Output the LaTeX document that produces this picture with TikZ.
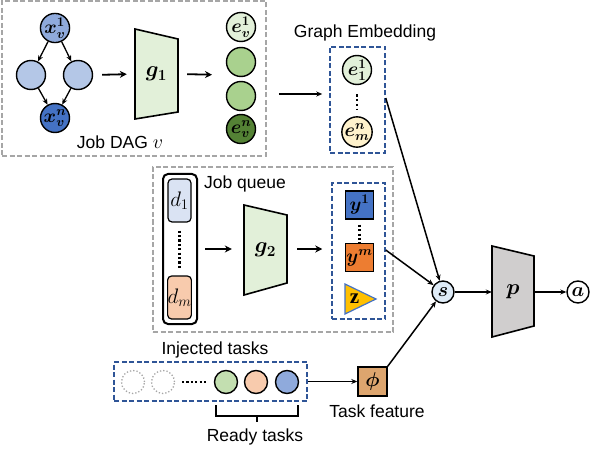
\RequirePackage{fix-cm}
\documentclass[tikz,border=0pt]{standalone}
\usepackage{amsmath,bm}
\usepackage{fontspec}
\setmainfont{Liberation Sans}
\newfontfamily\zserif{Liberation Serif}
\usetikzlibrary{arrows.meta,calc}
\definecolor{lgreen}{HTML}{E2F0D9}
\definecolor{mgreen}{HTML}{A9D18E}
\definecolor{dgreen}{HTML}{548235}
\definecolor{lblue}{HTML}{B4C7E7}
\definecolor{mblue}{HTML}{8FAADC}
\definecolor{dblue}{HTML}{4472C4}
\definecolor{boxblue}{HTML}{2F5597}
\definecolor{boxgray}{HTML}{A6A6A6}
\definecolor{qblue}{HTML}{DAE3F3}
\definecolor{qorange}{HTML}{F8CBAD}
\definecolor{yorange}{HTML}{ED7D31}
\definecolor{zyellow}{HTML}{FFC000}
\definecolor{lyellow}{HTML}{FFF2CC}
\definecolor{sblue}{HTML}{DEEBF7}
\definecolor{pgray}{HTML}{D0CECE}
\definecolor{phicol}{RGB}{221,165,110}
\tikzset{
  txt/.style={font=\fontsize{17.5}{20}\selectfont, inner sep=0pt},
  circ/.style={circle, draw=black, line width=1.4pt, minimum size=29pt, inner sep=0pt, font=\fontsize{19}{21}\selectfont},
  smallcirc/.style={circle, draw=black, line width=1.4pt, minimum size=23pt, inner sep=0pt},
  graybox/.style={draw=boxgray, line width=1.5pt, dash pattern=on 5pt off 2.5pt, inner sep=0pt},
  bluebox/.style={draw=boxblue, line width=1.5pt, dash pattern=on 5pt off 2.5pt, inner sep=0pt},
  sq/.style={draw=black, line width=1.4pt, minimum size=28pt, inner sep=0pt, font=\fontsize{19}{21}\selectfont},
  trap/.style={draw=black, line width=1.6pt},
  traplabel/.style={inner sep=0pt, font=\fontsize{22}{24}\selectfont},
  arr/.style={-{Stealth[length=7pt,width=7pt]}, line width=1.8pt},
  thinarr/.style={-{Stealth[length=6pt,width=5pt]}, line width=1.1pt},
  dagarr/.style={-{Stealth[length=6pt,width=5pt]}, line width=1.3pt},
  vdots/.style={line width=2.6pt, dash pattern=on 2.4pt off 2.4pt},
}
\begin{document}
\begin{tikzpicture}[x=1pt,y=-1pt]
\useasboundingbox (0,0) rectangle (591,457);

% ---------- Job DAG box ----------
\node[graybox, minimum width=264pt, minimum height=155pt] (dagbox) at (134,78.5) {};
\node[circ, fill=mblue] (x1) at (55,28) {$\bm{x_v^1}$};
\node[circ, fill=lblue] (xl) at (31,75) {};
\node[circ, fill=lblue] (xr) at (78,75) {};
\node[circ, fill=dblue] (xn) at (55,118) {$\bm{x_v^n}$};
\draw[dagarr] (x1) -- (xl);
\draw[dagarr] (x1) -- (xr);
\draw[dagarr] (xl) -- (xn);
\draw[dagarr] (xr) -- (xn);
\node[txt] (dagtxt) at (120,142) {Job DAG \fontsize{20}{22}\selectfont$v$};

\node[minimum width=43pt, minimum height=90pt, inner sep=0pt] (g1) at (156.5,74) {};
\draw[trap, fill=lgreen] (135,29) -- (178,39) -- (178,112) -- (135,119) -- cycle;
\node[traplabel] (g1txt) at (g1) {$\bm{g_1}$};
\draw[arr, shorten <=9pt, shorten >=8pt] (xr.east) -- (g1.west);

\node[circ, fill=lgreen] (e1) at (241,27) {$\bm{e_v^1}$};
\node[circ, fill=mgreen] (e2) at (241,62) {};
\node[circ, fill=mgreen] (e3) at (241,96) {};
\node[circ, fill=dgreen] (en) at (241,129) {$\bm{e_v^n}$};
\coordinate (ecol) at (226,75);
\draw[arr, shorten <=9pt, shorten >=14pt] (g1.east) -- (ecol);

% ---------- Graph embedding ----------
\node[txt] (getxt) at (365,33) {Graph Embedding};
\node[bluebox, minimum width=55pt, minimum height=106pt] (gebox) at (357.5,100) {};
\node[circ, fill=lgreen] (e11) at (357,70) {$\bm{e_1^1}$};
\node[circ, fill=lyellow] (emn) at (357,132) {$\bm{e_m^n}$};
\draw[vdots] ($(e11.south)+(0,9)$) coordinate (gd1) -- ($(emn.north)+(0,-7)$) coordinate (gd2);
\draw[thinarr, shorten <=12pt, shorten >=7pt] (dagbox.east |- 0,94) coordinate (c1) -- (gebox.west |- 0,94) coordinate (c2);

% ---------- Job queue ----------
\node[graybox, minimum width=240pt, minimum height=165pt] (jqbox) at (273,249.5) {};
\node[txt] (jqtxt) at (245,184) {Job queue};
\node[draw=black, line width=2pt, rounded corners=5pt, minimum width=34pt, minimum height=150pt, inner sep=0pt] (queue) at (180,249) {};
\node[draw=black, line width=1.2pt, rounded corners=4pt, fill=qblue, minimum width=23pt, minimum height=43pt, inner sep=0pt, font=\fontsize{21}{23}\selectfont] (d1) at (179.5,200.5) {$d_1$};
\node[draw=black, line width=1.2pt, rounded corners=4pt, fill=qorange, minimum width=23pt, minimum height=43pt, inner sep=0pt, font=\fontsize{21}{23}\selectfont] (dm) at (179.5,297.5) {$d_m$};
\draw[line width=2.4pt, dash pattern=on 2.2pt off 2.2pt] ($(d1.south)+(0,8)$) -- ($(dm.north)+(0,-6)$);

\node[minimum width=43pt, minimum height=90pt, inner sep=0pt] (g2) at (265.5,250) {};
\draw[trap, fill=lgreen] (244,205) -- (287,215) -- (287,283) -- (244,295) -- cycle;
\node[traplabel] (g2txt) at (g2) {$\bm{g_2}$};
\draw[arr, shorten <=7pt, shorten >=12pt] (queue.east |- 0,249) -- (g2.west |- 0,249);

\node[bluebox, minimum width=53pt, minimum height=136pt] (ybox) at (358.5,251) {};
\node[sq, fill=dblue] (y1) at (359.5,205) {$\bm{y^1}$};
\node[sq, fill=yorange] (ym) at (359.5,257.5) {$\bm{y^m}$};
\draw[line width=2.4pt, dash pattern=on 2.2pt off 2.2pt] ($(y1.south)+(0,5)$) -- (ym.north);
\draw[draw=dblue, line width=1.2pt, fill=zyellow] (345,284) -- (376,299) -- (345,314) -- cycle;
\node[inner sep=0pt, font=\fontsize{21}{23}\zserif\bfseries] (z) at (354.5,298.5) {z};
\draw[arr, shorten <=10pt, shorten >=9pt] (g2.east |- 0,249) coordinate (c3) -- (ybox.west |- 0,249) coordinate (c4);

% ---------- Injected tasks ----------
\node[txt] (injtxt) at (215,350) {Injected tasks};
\node[bluebox, minimum width=193pt, minimum height=39pt] (injbox) at (210.5,381.5) {};
\node[smallcirc, draw=boxgray, line width=1.3pt, dotted] (t1) at (133,382) {};
\node[smallcirc, draw=boxgray, line width=1.3pt, dotted] (t2) at (163,382) {};
\node[smallcirc, fill=mgreen!70!white] (t3) at (226,382) {};
\node[smallcirc, fill=qorange] (t4) at (256,382) {};
\node[smallcirc, fill=mblue] (t5) at (287,382) {};
\draw[line width=2.4pt, dash pattern=on 2.2pt off 2.2pt] (182,382) coordinate (hd1) -- (208,382) coordinate (hd2);
\draw[line width=1.5pt] (216,405) -- (216,416) -- (298,416) -- (298,405);
\draw[line width=1.5pt] (257,416) -- (257,422);
\node[txt] (readytxt) at (255,437) {Ready tasks};

\node[draw=black, line width=1.4pt, fill=phicol, minimum size=29pt, inner sep=0pt, font=\fontsize{20}{22}\selectfont] (phi) at (372.5,381.5) {$\bm{\phi}$};
\node[txt] (tftxt) at (377,411) {Task feature};
\draw[thinarr, line width=1.5pt] (injbox.east) -- (phi.west);

% ---------- policy ----------
\node[circle, draw=black, line width=1.4pt, fill=sblue, minimum size=22pt, inner sep=0pt, font=\fontsize{20}{22}\selectfont] (s) at (443,292) {$\bm{s}$};
\node[minimum width=42pt, minimum height=91pt, inner sep=0pt] (p) at (513,291.5) {};
\draw[trap, fill=pgray] (492,246) -- (534,256) -- (534,326) -- (492,337) -- cycle;
\node[traplabel] (ptxt) at (p) {$\bm{p}$};
\node[circle, draw=black, line width=1.4pt, fill=white, minimum size=22pt, inner sep=0pt, font=\fontsize{20}{22}\selectfont] (a) at (578,292) {$\bm{a}$};

\draw[thinarr, line width=1.5pt] (gebox.east |- 0,98) coordinate (c5) -- (s);
\draw[thinarr, line width=1.5pt] (ybox.east |- 0,250) coordinate (c6) -- (s);
\draw[thinarr, line width=1.5pt] (phi.north east) -- (s);
\draw[thinarr, line width=1.5pt] (s) -- (p.west |- s);
\draw[thinarr, line width=1.5pt] (p.east |- s) -- (a);
\end{tikzpicture}
\end{document}
